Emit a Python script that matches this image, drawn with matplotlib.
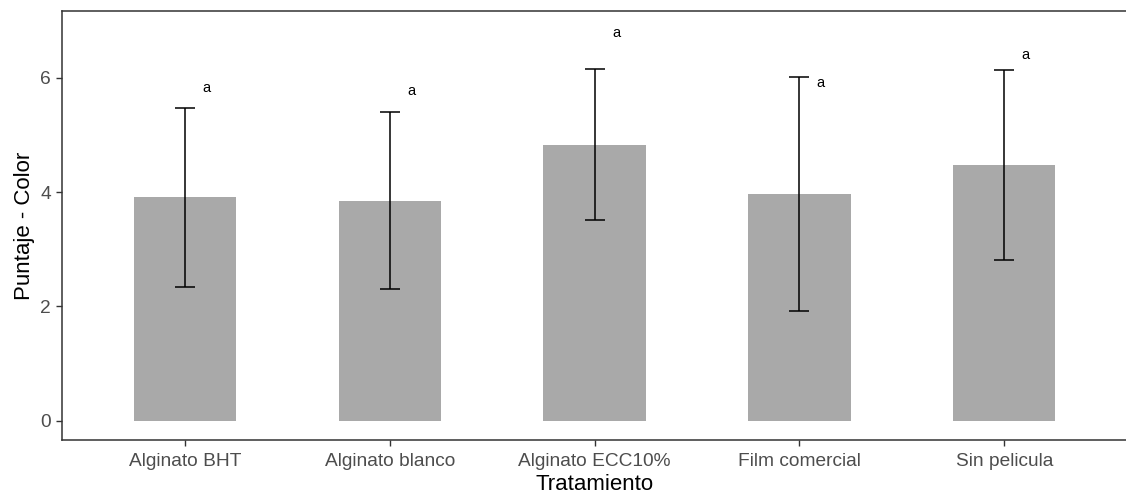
import matplotlib
matplotlib.use("Agg")
import matplotlib.pyplot as plt
import numpy as np

tratamientos = ["Alginato BHT", "Alginato blanco", "Alginato ECC10%", "Film comercial", "Sin pelicula"]
medias = [3.91, 3.85, 4.83, 3.96, 4.47]
desv = [1.57, 1.55, 1.32, 2.05, 1.66]
letras = ["a", "a", "a", "a", "a"]
letra_y = [5.83, 5.77, 6.79, 5.91, 6.40]

plt.rcParams["font.family"] = ["Liberation Sans", "DejaVu Sans"]

fig = plt.figure(figsize=(11.26, 5.04), dpi=100)
ax = fig.add_axes([62 / 1126, 1 - 440 / 504, 1 - 62 / 1126 + 0.001, (440 - 11) / 504])

x = np.arange(1, len(tratamientos) + 1)
ax.bar(x, medias, width=0.5, color="#a9a9a9", zorder=1)
ax.errorbar(x, medias, yerr=desv, fmt="none", ecolor="black", elinewidth=1.1,
            capsize=7.2, capthick=1.1, zorder=2)
for xi, yi, t in zip(x, letra_y, letras):
    ax.text(xi + 0.105, yi, t, ha="center", va="center", fontsize=10.5, color="black")

ax.set_xlim(0.4, 5.6)
ax.set_ylim(-0.34, 7.17)
ax.set_xticks(x)
ax.set_xticklabels(tratamientos)
ax.set_yticks([0, 2, 4, 6])
ax.tick_params(axis="both", colors="#333333", labelcolor="#4d4d4d", labelsize=13.8, length=4, width=1)
ax.tick_params(axis="x", pad=5)
ax.tick_params(axis="y", pad=4)
ax.set_xlabel("Tratamiento", fontsize=16, color="black", labelpad=3)
ax.set_ylabel("Puntaje - Color", fontsize=16, color="black", labelpad=4)
for s in ax.spines.values():
    s.set_color("#333333")
    s.set_linewidth(1.1)

fig.savefig("out.png", dpi=100)
